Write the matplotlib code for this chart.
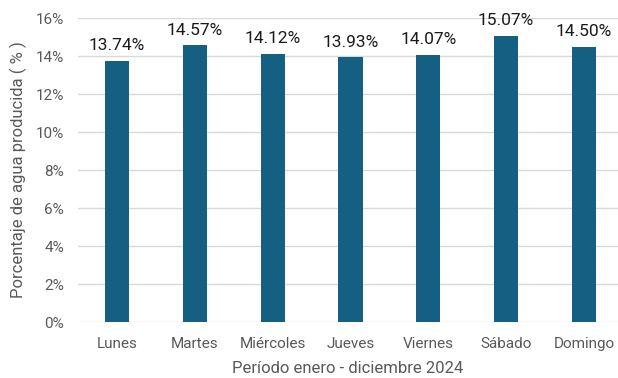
import matplotlib
matplotlib.use("Agg")
import matplotlib.pyplot as plt
from matplotlib.ticker import FuncFormatter

dias = ["Lunes", "Martes", "Miércoles", "Jueves", "Viernes", "Sábado", "Domingo"]
porcentajes = [13.74, 14.57, 14.12, 13.93, 14.07, 15.07, 14.50]
yticks = [0, 2, 4, 6, 8, 10, 12, 14, 16]

W, H = 618, 378
fig = plt.figure(figsize=(W / 100, H / 100), dpi=100)
plt.rcParams["font.family"] = ["Roboto", "DejaVu Sans"]

ax = fig.add_axes([78 / W, 1 - 322 / H, 540 / W, 304 / H])
x = list(range(len(dias)))
bars = ax.bar(x, porcentajes, width=0.31, color="#156082", zorder=3)

for xi, v in zip(x, porcentajes):
    ax.text(xi, v + 0.4, f"{v:.2f}%", ha="center", va="bottom",
            fontsize=12.5, color="#1a1a1a")

ax.set_xlim(-0.501, 6.437)
ax.set_ylim(0, 16)
ax.set_yticks(yticks)
ax.yaxis.set_major_formatter(FuncFormatter(lambda v, p: f"{v:.0f}%"))
ax.set_xticks(x)
ax.set_xticklabels(dias)
ax.grid(axis="y", color="#d9d9d9", linewidth=1, zorder=0)
for s in ax.spines.values():
    s.set_visible(False)
ax.tick_params(axis="both", length=0, colors="#595959", labelsize=11)
ax.tick_params(axis="x", pad=11)
ax.tick_params(axis="y", pad=10)

ax.set_xlabel("Período enero - diciembre 2024", fontsize=12, color="#595959", labelpad=7)
ax.set_ylabel("Porcentaje de agua producida ( % )", fontsize=12, color="#595959", labelpad=6)

fig.savefig("out.png", dpi=100)
